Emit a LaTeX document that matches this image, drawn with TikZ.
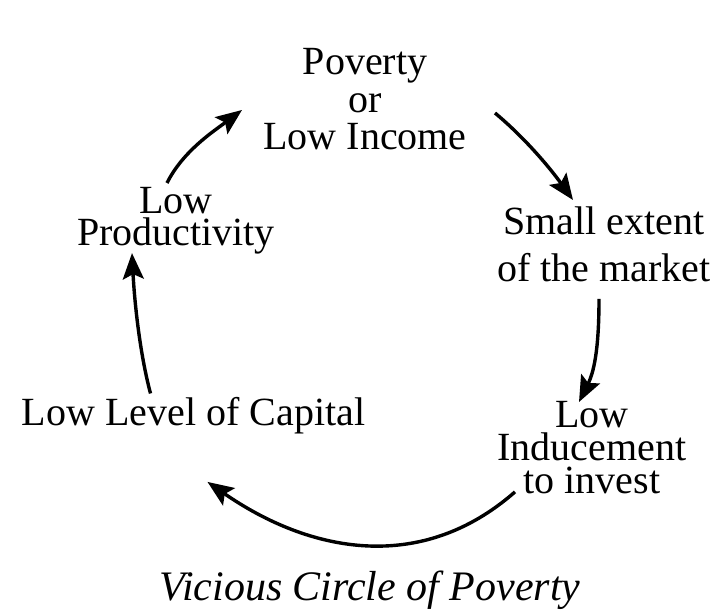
\documentclass[tikz,border=0pt]{standalone}
\usepackage{fontspec}
\setmainfont{Liberation Serif}
\usetikzlibrary{arrows.meta}

\begin{document}
\begin{tikzpicture}[x=0.5pt,y=-0.5pt,
lbl/.style={inner sep=0pt,align=center,font=\fontsize{20}{#1}\selectfont},
arrow/.style={-{Stealth[length=13pt,width=10.5pt,inset=2.5pt]},line width=1.7pt}]
\useasboundingbox (0,0) rectangle (718,610);
\node[lbl=18.75,anchor=north] (pov) at (365,48) {Poverty\\or\\Low Income};
\node[lbl=23.5,anchor=north] (small) at (604,206) {Small extent\\of the market};
\node[lbl=16.5,anchor=north] (ind) at (592,400.5) {Low\\Inducement\\to invest};
\node[lbl=24,anchor=base] (cap) at (193.5,425) {Low Level of Capital};
\node[lbl=16,anchor=north] (prod) at (176,186.5) {Low\\Productivity};
\node[inner sep=0pt,anchor=base,font=\fontsize{21}{24}\selectfont\itshape] (title) at (370,600) {Vicious Circle of Poverty};
% the circle of arrows
\draw[arrow] ([shift={(-9,-3.5)}]prod.north) .. controls +(16,-32) and +(-28,21) .. ([shift={(-123,62)}]pov.north);
\draw[arrow] ([shift={(130,65)}]pov.north) .. controls +(30,25) and +(-23,-32) .. ([shift={(-31,-6)}]small.north);
\draw[arrow] ([shift={(-5,17)}]small.south) .. controls +(0,45) and +(16,-32) .. ([shift={(-13,1.5)}]ind.north);
\draw[arrow] ([shift={(-77,-2)}]ind.south) .. controls +(-94,82.5) and +(102.5,71) .. ([shift={(14,48)}]cap.south);
\draw[arrow] ([shift={(-43,-3)}]cap.north) .. controls +(-12,-45) and +(2,40) .. ([shift={(-44,-1)}]prod.south);
\end{tikzpicture}
\end{document}
